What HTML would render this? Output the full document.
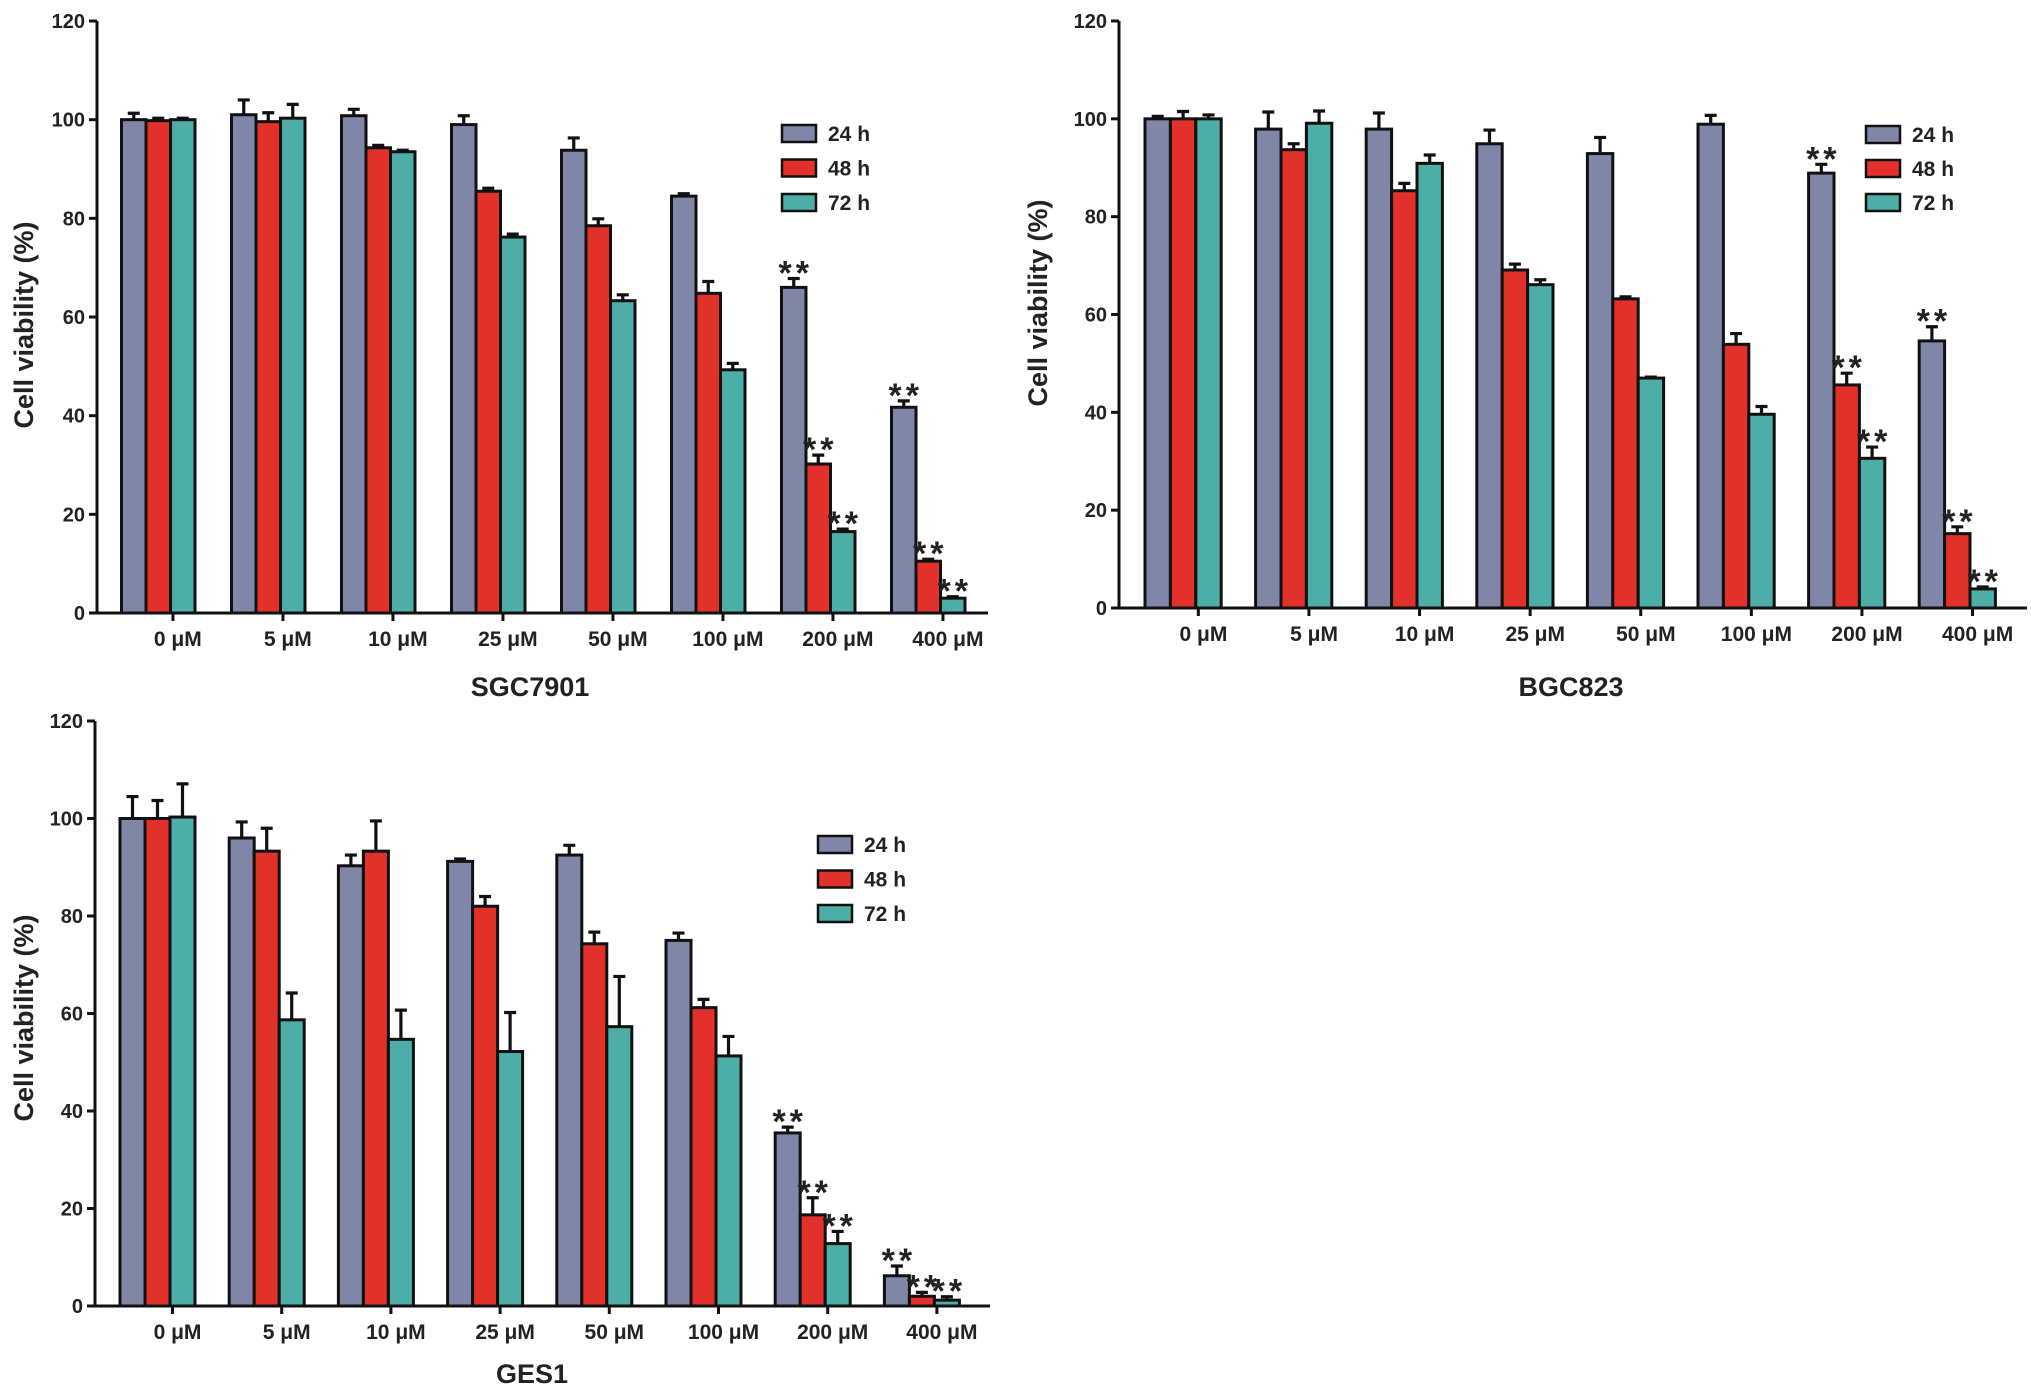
<!DOCTYPE html>
<html><head><meta charset="utf-8"><style>
html,body{margin:0;padding:0;background:#fff;}
svg{display:block;font-family:"Liberation Sans",Arial,sans-serif;}
</style></head><body>
<svg id="fig" width="2031" height="1394" viewBox="0 0 2031 1394"></svg>
<script>
const categories = ["0 μM","5 μM","10 μM","25 μM","50 μM","100 μM","200 μM","400 μM"];
const seriesNames = ["24 h","48 h","72 h"];
const yTicks = [0,20,40,60,80,100,120];

const sgc24 = [100,101,100.8,99,93.8,84.5,66,41.7];
const sgc48 = [99.8,99.6,94.3,85.5,78.5,64.8,30.2,10.5];
const sgc72 = [100,100.3,93.5,76.2,63.3,49.3,16.5,3];
const sgc24err = [1.3,3,1.3,1.8,2.5,0.5,1.8,1.3];
const sgc48err = [0.5,1.8,0.5,0.6,1.4,2.4,1.8,0.4];
const sgc72err = [0.3,2.8,0.3,0.6,1.2,1.3,0.5,0.3];

const bgc24 = [100,97.9,97.9,94.9,92.9,98.9,88.9,54.6];
const bgc48 = [100,93.7,85.3,69.1,63.2,53.9,45.6,15.2];
const bgc72 = [100,99.1,90.9,66.1,47,39.6,30.6,3.9];
const bgc24err = [0.5,3.5,3.3,2.8,3.3,1.8,1.8,2.9];
const bgc48err = [1.5,1.2,1.5,1.2,0.4,2.2,2.4,1.4];
const bgc72err = [0.8,2.5,1.7,1,0.2,1.6,2.3,0.4];

const ges24 = [100,96,90.3,91.2,92.5,75,35.5,6.2];
const ges48 = [100,93.3,93.3,82,74.3,61.2,18.7,2];
const ges72 = [100.3,58.7,54.7,52.2,57.3,51.3,12.8,1.2];
const ges24err = [4.5,3.3,2.2,0.5,2,1.5,1.2,2];
const ges48err = [3.7,4.7,6.2,2,2.4,1.7,3.5,0.8];
const ges72err = [6.8,5.5,6,8,10.3,4,2.5,0.7];

const sig24 = [0,0,0,0,0,0,1,1];
const sig48 = [0,0,0,0,0,0,1,1];
const sig72 = [0,0,0,0,0,0,1,1];

const colors = ["#7f86a8","#e2302a","#4dada7"];
const NS = "http://www.w3.org/2000/svg";
const svg = document.getElementById("fig");

function mk(tag, attrs, parent, text){
  const e = document.createElementNS(NS, tag);
  for (const k in attrs) e.setAttribute(k, attrs[k]);
  if (text !== undefined) e.textContent = text;
  parent.appendChild(e);
  return e;
}

function drawChart(cfg, vals, errs, title, key){
  const g = mk("g", {}, svg);
  
  
  const y = v => cfg.y0 - (v / 120) * (cfg.y0 - cfg.y120);
  const gx = i => cfg.start + i * cfg.spacing;
  for (let s = 0; s < 3; s++){
    for (let i = 0; i < categories.length; i++){
      const x = gx(i) + s * cfg.bw;
      const top = y(vals[s][i]);
      const et = y(vals[s][i] + errs[s][i]);
      const cx = x + cfg.bw / 2;
      const eb = mk("path", {d:`M${cx},${top} V${et} M${cx-6},${et} H${cx+6}`, stroke:"#111", "stroke-width":3.2, fill:"none"}, g);
      
      
      const r = mk("rect", {x:x, y:top, width:cfg.bw, height:cfg.y0 - top, fill:colors[s], stroke:"#111", "stroke-width":3}, g);
      
      
      const sig = [sig24, sig48, sig72][s][i];
      if (sig){
        const st = mk("text", {x:cx+2, y:et+6, "text-anchor":"middle", "font-size":34, "font-weight":"bold", "letter-spacing":4, fill:"#222"}, g, "**");
        
        
      }
    }
  }
  const ax = mk("path", {d:`M${cfg.ax},${cfg.y120} V${cfg.y0} H${cfg.xEnd}`, stroke:"#111", "stroke-width":3, fill:"none"}, g);
  
  
  yTicks.forEach(t => {
    mk("line", {x1:cfg.ax-8, x2:cfg.ax, y1:y(t), y2:y(t), stroke:"#111", "stroke-width":3}, g);
    const tl = mk("text", {x:cfg.ax-12, y:y(t)+7, "text-anchor":"end", "font-size":20, "font-weight":"bold", fill:"#222"}, g, String(t));
    
    
  });
  categories.forEach((c, i) => {
    const tx = gx(i) + cfg.bw * 2.1;
    mk("line", {x1:tx, x2:tx, y1:cfg.y0, y2:cfg.y0+8, stroke:"#111", "stroke-width":3}, g);
    const cl = mk("text", {x:gx(i) + cfg.bw * 2.3, y:cfg.y0+33, "text-anchor":"middle", "font-size":21, "font-weight":"bold", fill:"#222"}, g, c);
    
    
  });
  const yt = mk("text", {x:0, y:0, transform:`translate(${cfg.ytx},${cfg.yty}) rotate(-90)`, "text-anchor":"middle", "font-size":27, "font-weight":"bold", fill:"#222"}, g, "Cell viability (%)");
  
  
  const tt = mk("text", {x:cfg.tx, y:cfg.ty, "text-anchor":"middle", "font-size":27, "font-weight":"bold", fill:"#222"}, g, title);
  
  
  seriesNames.forEach((n, s) => {
    const ly = cfg.ly + s * cfg.lstep;
    const lr = mk("rect", {x:cfg.lx, y:ly, width:34, height:17, fill:colors[s], stroke:"#111", "stroke-width":2.5}, g);
    
    
    const lt = mk("text", {x:cfg.lx+46, y:ly+16, "font-size":21, "font-weight":"bold", fill:"#222"}, g, n);
    
    
  });
}

drawChart({ax:97, y120:21, y0:613, xEnd:988, start:121.5, spacing:110, bw:24.5,
  ytx:33, yty:325, tx:530, ty:696, lx:782, ly:125, lstep:34.5},
  [sgc24,sgc48,sgc72],[sgc24err,sgc48err,sgc72err],"SGC7901","sgc7901");
drawChart({ax:1119, y120:21, y0:608, xEnd:2027, start:1145, spacing:110.6, bw:25.4,
  ytx:1047, yty:303, tx:1571, ty:696, lx:1866, ly:126, lstep:34},
  [bgc24,bgc48,bgc72],[bgc24err,bgc48err,bgc72err],"BGC823","bgc823");
drawChart({ax:95, y120:721, y0:1306, xEnd:990, start:120, spacing:109.2, bw:25,
  ytx:33, yty:1018, tx:532, ty:1383, lx:818, ly:836, lstep:34.5},
  [ges24,ges48,ges72],[ges24err,ges48err,ges72err],"GES1","ges1");
</script>
</body></html>
